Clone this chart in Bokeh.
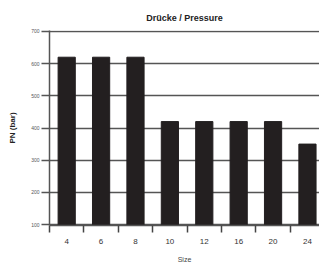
import numpy as np
from bokeh.plotting import figure
from bokeh.models import Range1d, FixedTicker, ColumnDataSource, LinearAxis
from bokeh.embed import file_html
from bokeh.resources import INLINE

title_text = "Drücke / Pressure"
x_label = "Size"
y_label = "PN (bar)"
sizes = ["4", "6", "8", "10", "12", "16", "20", "24"]
pressure = [620, 620, 620, 420, 420, 420, 420, 350]
y_ticks = [100, 200, 300, 400, 500, 600, 700]

xs = np.arange(len(sizes)) + 0.5
src = ColumnDataSource(dict(x=xs, top=pressure))

p = figure(width=319, height=265, output_backend="svg", toolbar_location=None,
           x_range=Range1d(0, 7.85), y_range=Range1d(97, 703),
           min_border_left=49, min_border_right=0, min_border_top=30, min_border_bottom=0)

p.vbar(x="x", top="top", bottom=97, width=0.5, source=src, color="#231f20", line_color="#231f20")

xa = p.below[0]
ya = p.left[0]

# invisible spacer between title and plot area
spacer = LinearAxis(ticker=FixedTicker(ticks=[]), major_tick_out=10, major_tick_in=0,
                    minor_tick_out=0, minor_tick_in=0, major_label_standoff=0,
                    axis_line_alpha=0, major_tick_line_alpha=0, minor_tick_line_alpha=0)
p.add_layout(spacer, "above")

p.title.text = title_text
p.title.align = "center"
p.title.vertical_align = "top"
p.title.text_font = "Liberation Sans"
p.title.text_font_size = "9px"
p.title.text_font_style = "bold"
p.title.text_color = "#222222"
p.title.standoff = 11

p.outline_line_color = None
p.background_fill_color = "white"
p.border_fill_color = "white"

xa.ticker = FixedTicker(ticks=list(xs), minor_ticks=list(np.arange(len(sizes))))
xa.major_label_overrides = {float(x): s for x, s in zip(xs, sizes)}
xa.major_tick_out = 0
xa.major_tick_in = 0
xa.minor_tick_out = 7
xa.minor_tick_in = 0
xa.minor_tick_line_color = "#444444"
xa.minor_tick_line_width = 1.5
xa.axis_line_color = "#555555"
xa.axis_line_width = 1.5
xa.major_label_text_font = "Liberation Sans"
xa.major_label_text_font_size = "8px"
xa.major_label_text_color = "#333333"
xa.major_label_standoff = 6
xa.axis_label = x_label
xa.axis_label_text_font = "Liberation Sans"
xa.axis_label_text_font_size = "7px"
xa.axis_label_text_font_style = "normal"
xa.axis_label_text_color = "#444444"
xa.axis_label_standoff = 9

ya.ticker = FixedTicker(ticks=y_ticks)
ya.major_tick_out = 8
ya.major_tick_in = 0
ya.minor_tick_out = 0
ya.minor_tick_in = 0
ya.major_tick_line_color = "#555555"
ya.major_tick_line_width = 1.5
ya.axis_line_color = "#555555"
ya.axis_line_width = 1.5
ya.major_label_text_font = "Liberation Sans"
ya.major_label_text_font_size = "5px"
ya.major_label_text_color = "#555555"
ya.major_label_standoff = 2
ya.axis_label = y_label
ya.axis_label_text_font = "Liberation Sans"
ya.axis_label_text_font_size = "8px"
ya.axis_label_text_font_style = "bold"
ya.axis_label_text_color = "#222222"
ya.axis_label_standoff = 11

p.xgrid.grid_line_color = None
p.ygrid.ticker = FixedTicker(ticks=y_ticks)
p.ygrid.grid_line_color = "#555555"
p.ygrid.grid_line_width = 1.5

open("out.html", "w").write(file_html(p, INLINE))
